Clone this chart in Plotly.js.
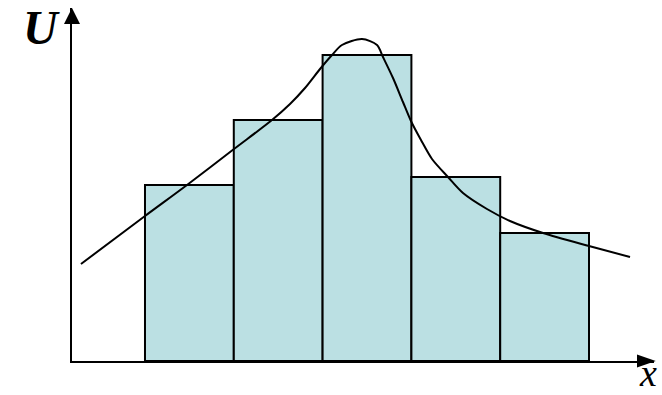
<!DOCTYPE html>
<html>
<head>
<meta charset="utf-8">
<script src="https://cdn.plot.ly/plotly-3.0.1.min.js"></script>
<style>html,body{margin:0;padding:0;background:#fff;}#chart{width:662px;height:395px;}</style>
</head>
<body>
<div id="chart"></div>
<script>
// Histogram bins (class centres) and heights
const binCenters = [1, 2, 3, 4, 5];
const binHeights = [17.6, 24.1, 30.6, 18.4, 12.8];

// Smooth curve drawn over the histogram
const curveX = [-0.221, 0.5, 0.973, 1.502, 1.930, 2.133, 2.302, 2.471, 2.606, 2.718, 2.944, 3.113, 3.180, 3.293, 3.405, 3.495, 3.608, 3.732, 3.912, 4.081, 4.351, 4.610, 4.982, 5.5, 5.962];
const curveY = [9.7, 14.5, 17.6, 21.2, 24.1, 25.7, 27.3, 29.2, 30.6, 31.6, 32.2, 31.6, 30.4, 28.3, 25.9, 24.0, 22.1, 20.2, 18.4, 16.8, 15.2, 14.0, 12.8, 11.5, 10.4];

// Axis labels
const yLabel = "U";
const xLabel = "x";

const W = 582, H = 353; // plot area size in px
const traces = [
  {
    type: 'bar', x: binCenters, y: binHeights, width: 1,
    marker: {color: 'rgb(187,224,227)', line: {color: '#000', width: 2}},
    hoverinfo: 'skip'
  },
  {
    type: 'scatter', mode: 'lines', x: curveX, y: curveY,
    line: {color: '#000', width: 2, shape: 'spline', smoothing: 0.8},
    hoverinfo: 'skip'
  }
];

const layout = {
  width: 662, height: 395,
  margin: {l: 72, r: 8, t: 8, b: 34},
  paper_bgcolor: '#fff', plot_bgcolor: '#fff',
  showlegend: false,
  bargap: 0,
  xaxis: {range: [-0.322, 6.232], showgrid: false, zeroline: false, showticklabels: false, ticks: '',
          showline: true, linecolor: '#000', linewidth: 2},
  yaxis: {range: [0, 35.3], showgrid: false, zeroline: false, showticklabels: false, ticks: '',
          showline: true, linecolor: '#000', linewidth: 2},
  shapes: [
    {type: 'path', xref: 'paper', yref: 'paper', fillcolor: '#000', line: {width: 0},
     path: `M 1.003 0 L ${1 - 17/W} ${6.5/H} L ${1 - 17/W} ${-6.5/H} Z`},
    {type: 'path', xref: 'paper', yref: 'paper', fillcolor: '#000', line: {width: 0},
     path: `M 0 1.0 L ${8/W} ${1 - 16/H} L ${-8/W} ${1 - 16/H} Z`}
  ],
  annotations: [
    {xref: 'paper', yref: 'paper', x: -31/W, y: 1 + 8/H, xanchor: 'center', yanchor: 'top', showarrow: false, borderpad: 0,
     text: '<b><i>' + yLabel + '</i></b>', font: {family: 'Liberation Serif, Times New Roman, serif', size: 48, color: '#000'}},
    {xref: 'paper', yref: 'paper', x: 1 - 6/W, y: -34/H, xanchor: 'center', yanchor: 'bottom', showarrow: false, borderpad: 0,
     text: '<i>' + xLabel + '</i>', font: {family: 'Liberation Serif, Times New Roman, serif', size: 38, color: '#000'}}
  ]
};

Plotly.newPlot('chart', traces, layout, {displayModeBar: false, staticPlot: true});
</script>
</body>
</html>
